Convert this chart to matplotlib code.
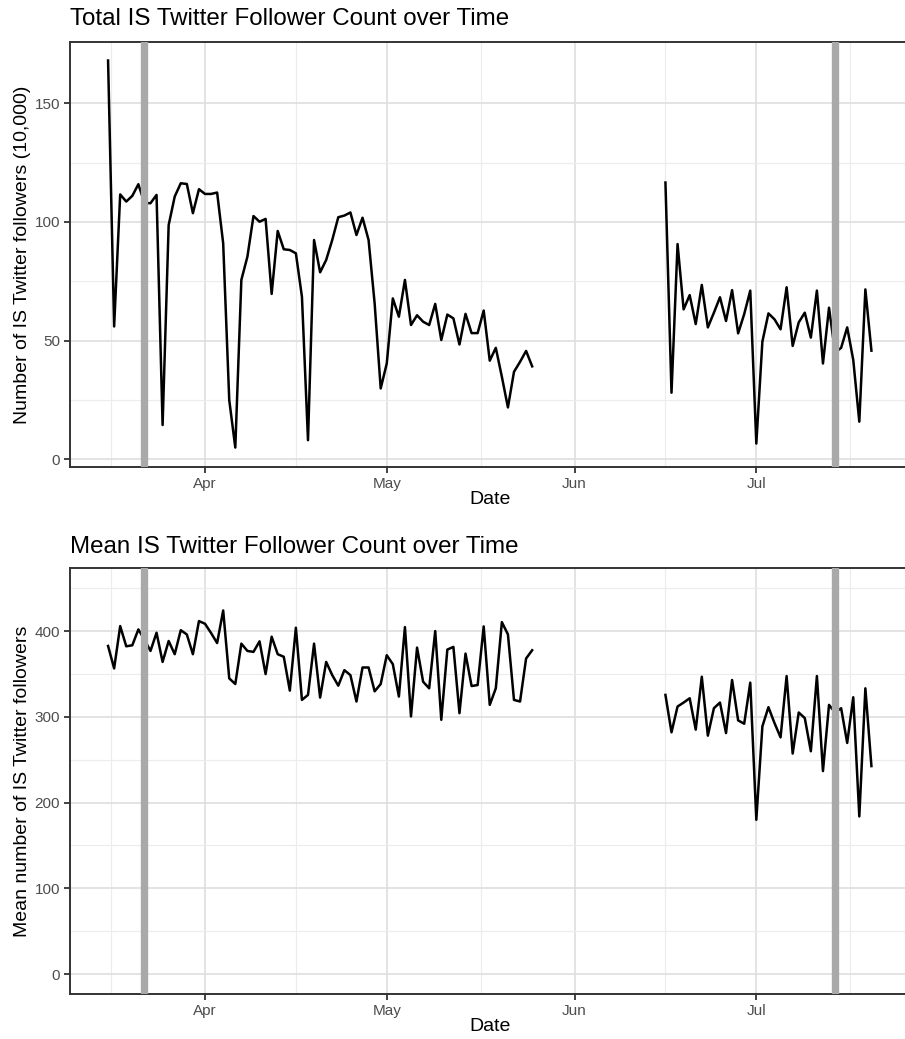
import matplotlib
matplotlib.use('Agg')
import matplotlib.pyplot as plt
import matplotlib.dates as mdates
import pandas as pd
import numpy as np

plt.rcParams['font.family'] = ['Liberation Sans', 'DejaVu Sans']

# daily values, two stretches of dates with a gap in between
dates_a = pd.date_range('2015-03-16', '2015-05-25', freq='D')
dates_b = pd.date_range('2015-06-16', '2015-07-20', freq='D')

# total follower count (in 10,000)
total_a = [168, 56, 111.6, 108.6, 111, 115.9, 108, 107.9, 111.4, 14.5,
           98.7, 110.7, 116.3, 116, 103.7, 113.8,
           111.8, 111.8, 112.4, 91, 25, 5, 75.6, 85.4, 102.5, 100.1,
           101.3, 69.7, 96.2, 88.5, 88.2, 86.8, 68.5, 8.1, 92.4, 78.8,
           84, 92.4, 102, 102.7, 104, 94.5, 101.8, 92.4, 65.7, 29.9,
           40.4, 67.8, 60.1, 75.6, 56.6, 60.7, 58, 56.6, 65.5, 50.3,
           61, 59.4, 48.4, 61.3, 53.2, 53.2, 62.7, 41.6, 47, 34.8,
           21.9, 36.9, 41.1, 45.7, 39.2]
total_b = [116.6, 28.1, 90.7, 63.2, 69.2, 57, 73.5, 55.6, 61.8, 68.3,
           58.3, 71.3, 53.1, 61.2, 71.1,
           6.7, 49.6, 61.5, 59, 54.8, 72.5, 47.8, 57.7, 61.8, 51.3,
           71.1, 40.4, 63.9, 45, 47, 55.6, 41.9, 15.9, 71.6, 45.8]

# mean follower count
mean_a = [382.6, 356.4, 405.8, 382.2, 383.4, 401.9, 390, 376.8, 398, 364,
          388.4, 373, 401, 396, 373, 411.6,
          408.5, 397.7, 386, 424, 344.8, 338.2, 385.3, 376.8, 375.7, 388,
          349.8, 393.4, 373, 370, 330.5, 403.9, 319.7, 325.5, 385.3, 322.4,
          364, 348.6, 336.3, 354.4, 348.6, 317.8, 357.5, 357.5, 329.7, 338.2,
          371.8, 361.4, 323.6, 404.6, 300.4, 380.7, 340.9, 333.2, 400, 296.5,
          378.4, 381.5, 304.2, 373.7, 335.9, 337, 405.4, 313.9, 333.2, 410.4,
          396.1, 319.7, 317.8, 368, 377.6]
mean_b = [325.5, 281.9, 312, 316.6, 321.6, 285, 346.7, 278, 310, 316.6,
          281, 342.9, 295.8, 291.9, 339.8,
          179.9, 288.8, 311.2, 292.7, 276, 347.5, 257.1, 305, 298.5, 259.8,
          347.5, 236.7, 313.9, 305, 310, 269.5, 322.8, 183.8, 333.2, 242.5]

events = pd.to_datetime(['2015-03-22', '2015-07-14'])

fig = plt.figure(figsize=(9.05, 10.39), dpi=100)

x_lo = pd.Timestamp('2015-03-09 17:00')
x_hi = pd.Timestamp('2015-07-26 08:00')
major_x = pd.to_datetime(['2015-04-01', '2015-05-01', '2015-06-01', '2015-07-01'])
minor_x = pd.to_datetime(['2015-03-16 12:00', '2015-04-16 00:00', '2015-05-16 12:00',
                          '2015-06-16 00:00', '2015-07-16 12:00'])


def style_panel(ax, yticks, yminor, ylim):
    ax.set_xlim(x_lo, x_hi)
    ax.set_ylim(*ylim)
    ax.set_xticks(major_x)
    ax.set_xticks(minor_x, minor=True)
    ax.xaxis.set_major_formatter(mdates.DateFormatter('%b'))
    ax.set_yticks(yticks)
    ax.set_yticks(yminor, minor=True)
    ax.grid(True, which='major', color='#dedede', lw=1.2, zorder=0)
    ax.grid(True, which='minor', color='#ececec', lw=0.8, zorder=0)
    ax.tick_params(which='major', length=4, width=1.3, color='#333333',
                   labelcolor='#4d4d4d', labelsize=11, pad=3)
    ax.tick_params(which='minor', length=0)
    for s in ax.spines.values():
        s.set_color('#333333')
        s.set_linewidth(1.4)
    ax.set_axisbelow(True)
    ax.set_xlabel('Date', fontsize=14, labelpad=0)
    for d in events:
        ax.axvline(d, color='#a9a9a9', lw=5.3, zorder=3)


ax1 = fig.add_axes([0.0773, 0.5505, 0.928, 0.4091])
ax1.plot(dates_a, total_a, color='black', lw=1.8, zorder=2)
ax1.plot(dates_b, total_b, color='black', lw=1.8, zorder=2)
style_panel(ax1, [0, 50, 100, 150], [25, 75, 125], (-3.2, 175.8))
ax1.set_ylabel('Number of IS Twitter followers (10,000)', fontsize=14, labelpad=3)
fig.text(0.0773, 0.9815, 'Total IS Twitter Follower Count over Time',
         fontsize=17.4, va='center', ha='left')

ax2 = fig.add_axes([0.0773, 0.0433, 0.928, 0.41])
ax2.plot(dates_a, mean_a, color='black', lw=1.8, zorder=2)
ax2.plot(dates_b, mean_b, color='black', lw=1.8, zorder=2)
style_panel(ax2, [0, 100, 200, 300, 400], [50, 150, 250, 350, 450], (-23.3, 473.5))
ax2.set_ylabel('Mean number of IS Twitter followers', fontsize=14, labelpad=3)
fig.text(0.0773, 0.4735, 'Mean IS Twitter Follower Count over Time',
         fontsize=17.4, va='center', ha='left')

fig.savefig('out.png', dpi=100)
